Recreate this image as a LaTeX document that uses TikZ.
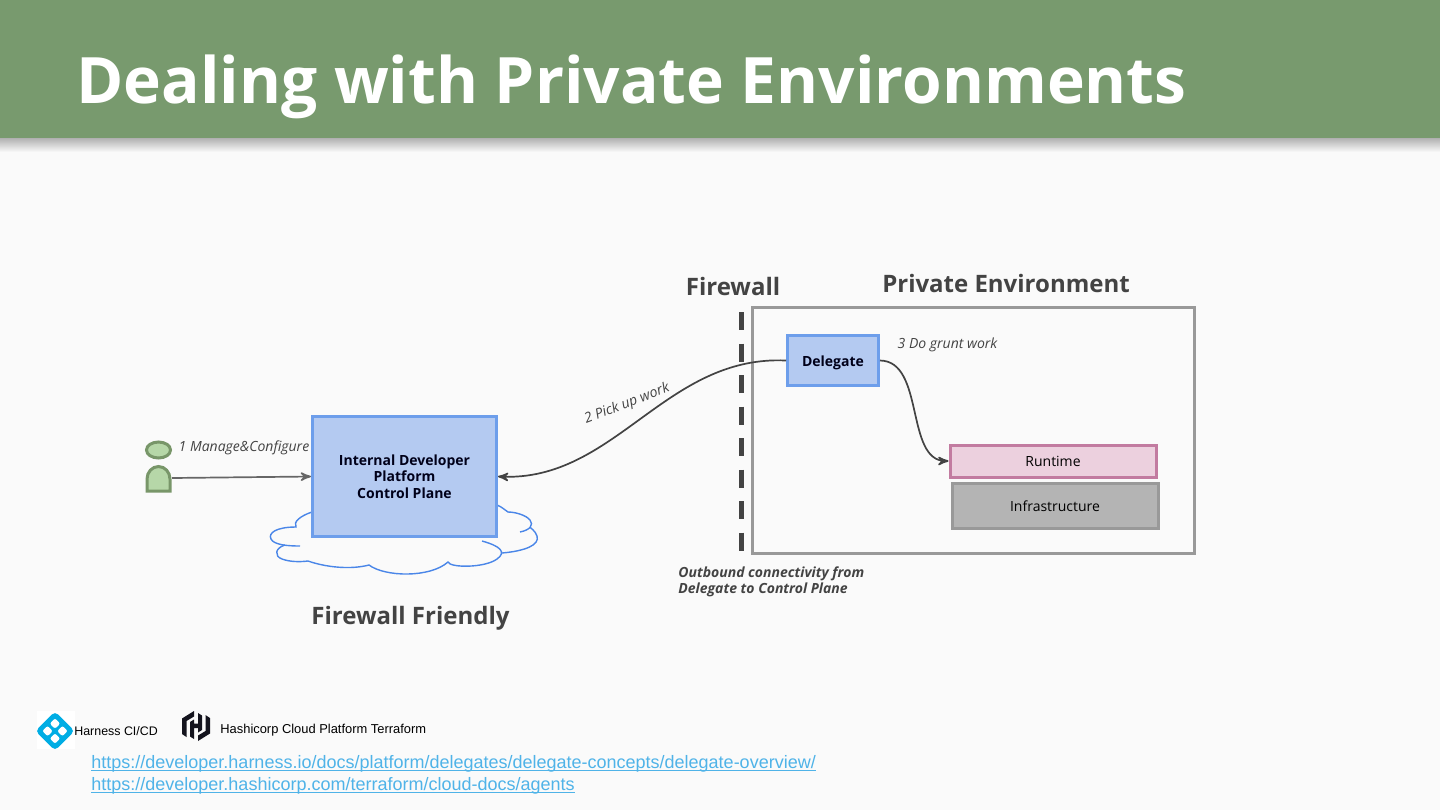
\documentclass[tikz,border=0pt]{standalone}
\usepackage{fontspec}
\setmainfont{Open Sans}
\newfontfamily\linkfont{Liberation Sans}
\usepackage{tikz}
\usetikzlibrary{arrows,shapes,positioning}
\usetikzlibrary{calc,shapes.geometric}
\definecolor{cbar}{RGB}{120,154,110}
\definecolor{cpage}{RGB}{250,250,250}
\definecolor{cblue}{RGB}{109,158,235}
\definecolor{cbluef}{RGB}{180,202,241}
\definecolor{ccloud}{RGB}{74,134,232}
\definecolor{cgreen}{RGB}{182,215,168}
\definecolor{cgreend}{RGB}{120,150,105}
\definecolor{cpink}{RGB}{194,123,160}
\definecolor{cpinkf}{RGB}{236,208,222}
\definecolor{cgrayd}{RGB}{153,153,153}
\definecolor{cgrayf}{RGB}{180,180,180}
\definecolor{ctext}{RGB}{67,67,67}
\definecolor{clink}{RGB}{79,179,232}
\definecolor{charness}{RGB}{0,173,228}
\definecolor{chashi}{RGB}{20,20,30}
\newcommand{\ulink}[1]{\setbox0\hbox{#1}\rlap{\rule[-1.3pt]{\wd0}{0.8pt}}#1}

\begin{document}
\begin{tikzpicture}[x=0.5pt,y=-0.5pt,>=stealth',
  blk/.style={draw=cblue,fill=cbluef,line width=1.5pt,align=center,font=\fontsize{7}{8.3}\selectfont\bfseries,
              inner sep=0pt,text=black!90!blue},
  stack/.style={line width=1.5pt,align=center,font=\fontsize{7}{8.3}\selectfont,inner sep=0pt,
              minimum width=103pt},
  head/.style={font=\fontsize{12}{14}\selectfont\bfseries,text=ctext,inner sep=0pt},
  note/.style={font=\fontsize{7}{8}\selectfont\itshape,text=ctext,inner sep=0pt},
  link/.style={font=\fontsize{9}{11}\linkfont,text=clink,inner sep=0pt,anchor=west},
  logotxt/.style={font=\fontsize{6.2}{7}\linkfont,text=black,inner sep=0pt,anchor=west},
  wire/.style={->,draw=ctext,line width=0.85pt}]
\useasboundingbox (0,0) rectangle (1440,810);
\fill[cpage] (0,0) rectangle (1440,810);
% title bar
\shade[top color=black!35,bottom color=cpage] (0,136) rectangle (1440,152);
\fill[cbar] (0,0) rectangle (1440,138);
\node (title) [font=\fontsize{32}{38}\selectfont\bfseries,text=white,inner sep=0pt,anchor=west] at (76,87)
      {Dealing with Private Environments};
% cloud first, the box hides the middle of it
\draw[ccloud,line width=0.7pt] (312,512) .. controls (300,516) and (293,522) .. (296,527)
  .. controls (276,527) and (268,533) .. (271,539) .. controls (274,545) and (288,546) .. (300,546);
\draw[ccloud,line width=0.7pt] (285,545) .. controls (275,548) and (274,556) .. (282,559)
  .. controls (290,562) and (300,562) .. (308,561) .. controls (325,567) and (350,570) .. (369,565)
  .. controls (385,577) and (430,578) .. (448,562) .. controls (450,568) and (485,568) .. (497,559)
  .. controls (507,552) and (500,546) .. (482,541);
\draw[ccloud,line width=0.7pt] (502,553) .. controls (525,551) and (540,545) .. (537,536)
  .. controls (535,530) and (530,528) .. (530,527);
\draw[ccloud,line width=0.7pt] (520,532) .. controls (530,530) and (534,525) .. (530,520)
  .. controls (526,515) and (515,512) .. (508,512) .. controls (505,510) and (502,507) .. (497,505);
% person
\node (hd) [draw=cgreend,fill=cgreen,ellipse,line width=1.5pt,minimum width=12pt,minimum height=8pt,inner sep=0pt] at (158.5,450) {};
\draw[cgreend,fill=cgreen,line width=1.5pt] (147,491) -- (147,479) arc[start angle=180,end angle=360,x radius=11.5,y radius=12.5] -- (170,491) -- cycle;
\coordinate (usr) at (172,478);
% boxes
\node (ctl) [blk,minimum width=92pt,minimum height=60pt] at (404.5,476.5)
      {Internal Developer\\ Platform\\ Control Plane};
\node (fwf) [head] at (410.5,618) {Firewall Friendly};
\node (env) [draw=cgrayd,line width=1.5pt,minimum width=221pt,minimum height=123pt,inner sep=0pt] at (973.5,430) {};
\node (prv) [head] at (1006,283.5) {Private Environment};
\node (fwl) [head] at (733,286) {Firewall};
\node (dlg) [blk,minimum width=45.5pt,minimum height=25pt,text height=7.5pt] at (833,360.5) {Delegate};
\node (run) [stack,draw=cpink,fill=cpinkf,minimum height=16pt] at (1053,461) {Runtime};
\node (inf) [stack,draw=cgrayd,fill=cgrayf,minimum height=22.5pt,text height=6.5pt] at (1055,505.5) {Infrastructure};
% firewall
\coordinate (fwt) at (741.5,312);
\coordinate (fwb) at (741.5,551);
\draw[ctext,line width=2.5pt,dash pattern=on 9pt off 6.75pt] (fwt) -- (fwb);
% labels
\node (l1) [note] at (244,448) {1 Manage\&Configure};
\node (l2) [note,rotate=21] at (627,404) {2 Pick up work};
\node (l3) [note] at (947.5,345) {3 Do grunt work};
\node (obd) [font=\fontsize{7}{8}\selectfont\bfseries\itshape,text=ctext,inner sep=0pt,align=left,anchor=north west] at (678,566)
      {Outbound connectivity from\\ Delegate to Control Plane};
% connectors
\draw[->,draw=black!60,line width=0.85pt] (usr) -- (ctl.west);
\draw[wire] (dlg.west) .. controls (665,355) and (615,482) .. (ctl.east);
\draw[wire] (dlg.east) .. controls (925,361) and (905,461) .. (run.west);
% logos
\fill[white] (37,711) rectangle (75,749);
\begin{scope}[shift={(55,731)},rotate=45]
  \fill[charness,rounded corners=2pt] (-13.8,-13.8) rectangle (13.8,13.8);
  \foreach \i/\j in {-5.3/-5.3,-5.3/5.3,5.3/-5.3,5.3/5.3}
    \fill[white,rounded corners=1pt] ($(\i,\j)+(-3.7,-3.7)$) rectangle ($(\i,\j)+(3.7,3.7)$);
\end{scope}
\fill[chashi] (194,711) -- (182,718.5) -- (182,734) -- (186.5,737) -- (186.5,721) -- (194,716.5) -- cycle;
\fill[chashi] (198,741) -- (210,733.5) -- (210,718) -- (205.5,715) -- (205.5,731) -- (198,735.5) -- cycle;
\fill[chashi] (190,722) -- (194,719.5) -- (194,723.5) -- (198,723.5) -- (198,713) -- (202,715.5) -- (202,730) -- (198,732.5) -- (198,728) -- (194,728) -- (194,739) -- (190,736.5) -- cycle;
\node (hrn) [logotxt] at (74,731.5) {Harness CI/CD};
\node (hsh) [logotxt,font=\fontsize{6.45}{7}\linkfont] at (220,730) {Hashicorp Cloud Platform Terraform};
\node (lk1) [link] at (91,764) {\ulink{https://developer.harness.io/docs/platform/delegates/delegate-concepts/delegate-overview/}};
\node (lk2) [link] at (91,786) {\ulink{https://developer.hashicorp.com/terraform/cloud-docs/agents}};
\end{tikzpicture}
\end{document}
